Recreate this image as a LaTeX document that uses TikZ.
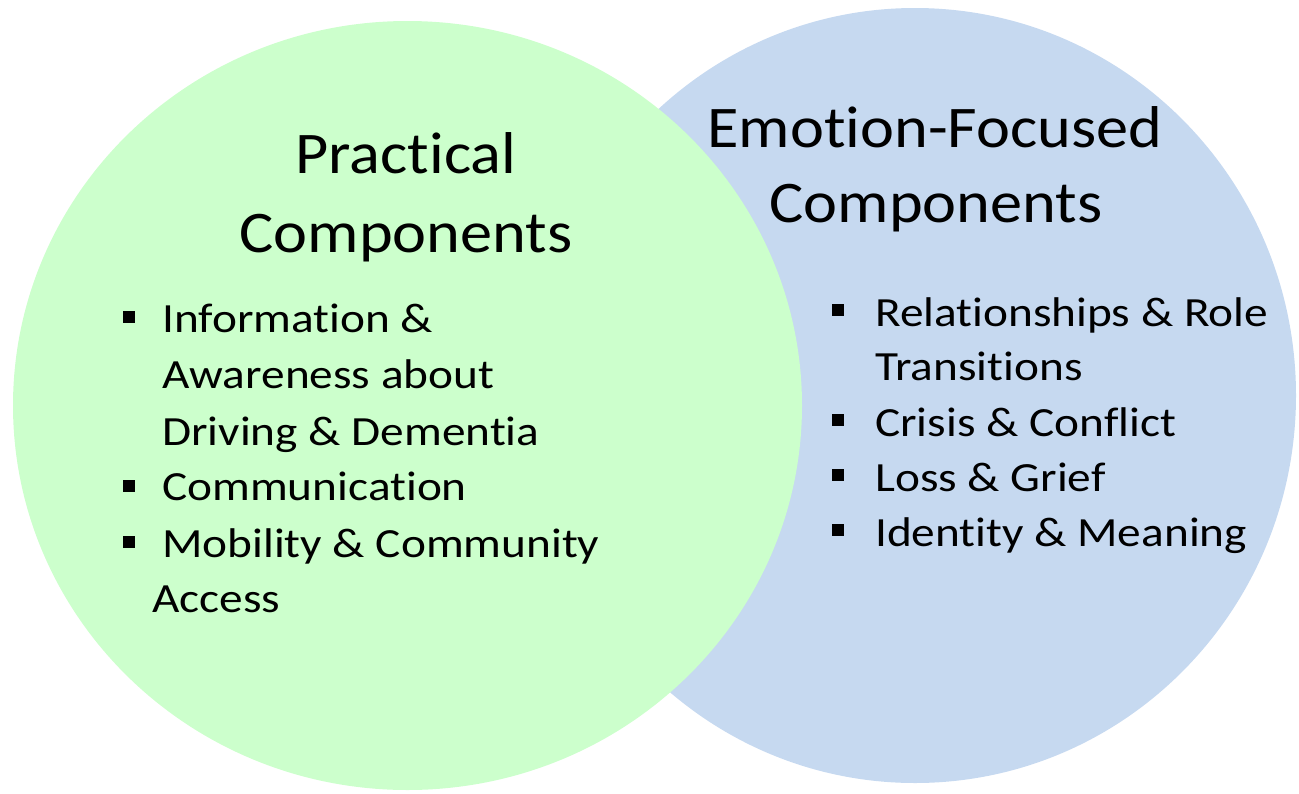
\documentclass[tikz,border=0pt]{standalone}
\usepackage{graphicx}
\usepackage{fontspec}
\setmainfont{Carlito}[Ligatures={NoCommon,NoContextual}]
\usetikzlibrary{shapes.geometric}
\definecolor{greenC}{RGB}{204,255,204}
\definecolor{blueC}{RGB}{198,217,240}
\newcommand{\wideT}[1]{\scalebox{1.09}[1]{#1}}
\newcommand{\wideI}[1]{\scalebox{1.14}[1]{#1}}
\tikzset{
  blob/.style={ellipse, inner sep=0pt, draw=none},
  title/.style={anchor=base, font=\fontsize{59}{70}\selectfont, inner sep=0pt},
  item/.style={anchor=base west, font=\fontsize{41.5}{50}\selectfont, inner sep=0pt},
  sq/.style={rectangle, fill=black, minimum size=12pt, inner sep=0pt},
}
\begin{document}
\begin{tikzpicture}[x=1pt,y=-1pt]
\useasboundingbox (0,0) rectangle (1299,793);
\node[blob, fill=blueC, minimum width=762pt, minimum height=775pt] (blue) at (915,395.5) {};
\node[blob, fill=greenC, minimum width=789pt, minimum height=769pt] (green) at (407.5,405.5) {};
% left titles
\node[title] (lt1) at (406,173) {\wideT{Practical}};
\node[title] (lt2) at (406,252) {\wideT{Components}};
% right titles
\node[title] (rt1) at (935,147) {\wideT{Emotion-Focused}};
\node[title] (rt2) at (936,222) {\wideT{Components}};
% left items
\node[sq] (lb1) at (128.5,316.5) {};
\node[item] (l1) at (162,332) {\wideI{Information \&}};
\node[item] (l2) at (162,388) {\wideI{Awareness about}};
\node[item] (l3) at (162,445) {\wideI{Driving \& Dementia}};
\node[sq] (lb2) at (128.5,486) {};
\node[item] (l4) at (162,500) {\wideI{Communication}};
\node[sq] (lb3) at (128.5,541.5) {};
\node[item] (l5) at (162,557) {\wideI{Mobility \& Community}};
\node[item] (l6) at (152,612) {\wideI{Access}};
% right items
\node[sq] (rb1) at (838,310) {};
\node[item] (r1) at (875,326) {\wideI{Relationships \& Role}};
\node[item] (r2) at (875,380) {\wideI{Transitions}};
\node[sq] (rb2) at (838,420) {};
\node[item] (r3) at (875,436) {\wideI{Crisis \& Conflict}};
\node[sq] (rb3) at (838,475) {};
\node[item] (r4) at (875,491) {\wideI{Loss \& Grief}};
\node[sq] (rb4) at (838,530) {};
\node[item] (r5) at (875,546) {\wideI{Identity \& Meaning}};
\end{tikzpicture}
\end{document}
